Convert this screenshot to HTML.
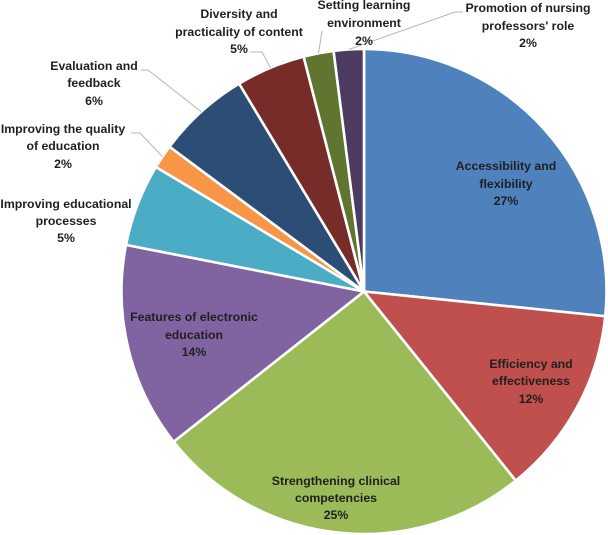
<!DOCTYPE html>
<html lang="en">
<head>
<meta charset="utf-8">
<title>Pie chart</title>
<style>
html,body{margin:0;padding:0;background:#fff;width:608px;height:535px;overflow:hidden}
svg{display:block;filter:blur(0.35px)}
text{font-family:"Liberation Sans",Arial,sans-serif;font-weight:bold;font-size:12.3px;fill:#1f1f1f;text-anchor:middle}
</style>
</head>
<body>
<svg id="chart" width="608" height="535" viewBox="0 0 608 535" xmlns="http://www.w3.org/2000/svg">
  <g id="slices"></g>
  <g id="leaders"></g>
  <g>
    <text><tspan x="506" y="170">Accessibility and</tspan><tspan x="506" y="188">flexibility</tspan><tspan class="pct" data-i="0" x="506" y="205"></tspan></text>
    <text><tspan x="531" y="368">Efficiency and</tspan><tspan x="531" y="385">effectiveness</tspan><tspan class="pct" data-i="1" x="531" y="403"></tspan></text>
    <text><tspan x="336" y="485">Strengthening clinical</tspan><tspan x="336" y="502">competencies</tspan><tspan class="pct" data-i="2" x="336" y="519"></tspan></text>
    <text><tspan x="194" y="321">Features of electronic</tspan><tspan x="194" y="339">education</tspan><tspan class="pct" data-i="3" x="194" y="356"></tspan></text>
    <text><tspan x="66" y="208">Improving educational</tspan><tspan x="66" y="225">processes</tspan><tspan class="pct" data-i="4" x="66" y="242"></tspan></text>
    <text><tspan x="63" y="133">Improving the quality</tspan><tspan x="63" y="150">of education</tspan><tspan class="pct" data-i="5" x="63" y="168"></tspan></text>
    <text><tspan x="94" y="70">Evaluation and</tspan><tspan x="94" y="87">feedback</tspan><tspan class="pct" data-i="6" x="94" y="105"></tspan></text>
    <text><tspan x="239" y="18">Diversity and</tspan><tspan x="239" y="36">practicality of content</tspan><tspan class="pct" data-i="7" x="239" y="53"></tspan></text>
    <text><tspan x="364" y="9">Setting learning</tspan><tspan x="364" y="27">environment</tspan><tspan class="pct" data-i="8" x="364" y="45"></tspan></text>
    <text><tspan x="528" y="12">Promotion of nursing</tspan><tspan x="528" y="30">professors' role</tspan><tspan class="pct" data-i="9" x="528" y="47"></tspan></text>
  </g>
</svg>
<script>
const categories = ["Accessibility and flexibility","Efficiency and effectiveness","Strengthening clinical competencies","Features of electronic education","Improving educational processes","Improving the quality of education","Evaluation and feedback","Diversity and practicality of content","Setting learning environment","Promotion of nursing professors' role"];
const sliceValues = [26.6,12.6,25.1,13.7,5.5,1.6,6.2,4.6,2.0,2.0];
const printedLabels = ["27%","12%","25%","14%","5%","2%","6%","5%","2%","2%"];
const sliceColors = ["#4f81bd","#c0504d","#9bbb59","#8064a2","#4bacc6","#f79646","#2c4d75","#772c2a","#5f7530","#4d3b62"];

const CX = 364, CY = 291.5, R = 242.5;
const NS = "http://www.w3.org/2000/svg";
const total = sliceValues.reduce(function (a, b) { return a + b; }, 0);

function angleOf(v) { return v / total * Math.PI * 2; }
function px(a, r) { return CX + r * Math.sin(a); }
function py(a, r) { return CY - r * Math.cos(a); }

const sliceLayer = document.getElementById("slices");
const leaderLayer = document.getElementById("leaders");
const midAngles = [];
let cursor = 0;
sliceValues.forEach(function (v, i) {
  const a0 = cursor, a1 = cursor + angleOf(v);
  cursor = a1;
  midAngles.push((a0 + a1) / 2);
  const large = a1 - a0 > Math.PI ? 1 : 0;
  const path = document.createElementNS(NS, "path");
  path.setAttribute("d", "M" + CX + " " + CY + " L" + px(a0, R) + " " + py(a0, R) + " A" + R + " " + R + " 0 " + large + " 1 " + px(a1, R) + " " + py(a1, R) + " Z");
  path.setAttribute("fill", sliceColors[i]);
  path.setAttribute("stroke", "#ffffff");
  path.setAttribute("stroke-width", "2.6");
  path.setAttribute("stroke-linejoin", "round");
  
  
  const tip = document.createElementNS(NS, "title");
  tip.textContent = categories[i];
  path.appendChild(tip);
  sliceLayer.appendChild(path);
});

document.querySelectorAll(".pct").forEach(function (t) {
  t.textContent = printedLabels[+t.getAttribute("data-i")];
});

/* Leader lines: fixed start at the label, end follows the slice's mid angle */
function leader(sliceIndex, startAndElbow) {
  const a = midAngles[sliceIndex];
  const line = document.createElementNS(NS, "polyline");
  line.setAttribute("points", startAndElbow + " " + px(a, R) + "," + py(a, R));
  line.setAttribute("fill", "none");
  line.setAttribute("stroke", "#b5b5b5");
  line.setAttribute("stroke-width", "1");
  
  
  leaderLayer.appendChild(line);
}
leader(5, "131,133 140,133");
leader(6, "141,70 148,70");
leader(7, "250,52 262,52");
leader(8, "322,31 322,31");
leader(9, "463,12 455,12");
</script>
</body>
</html>
